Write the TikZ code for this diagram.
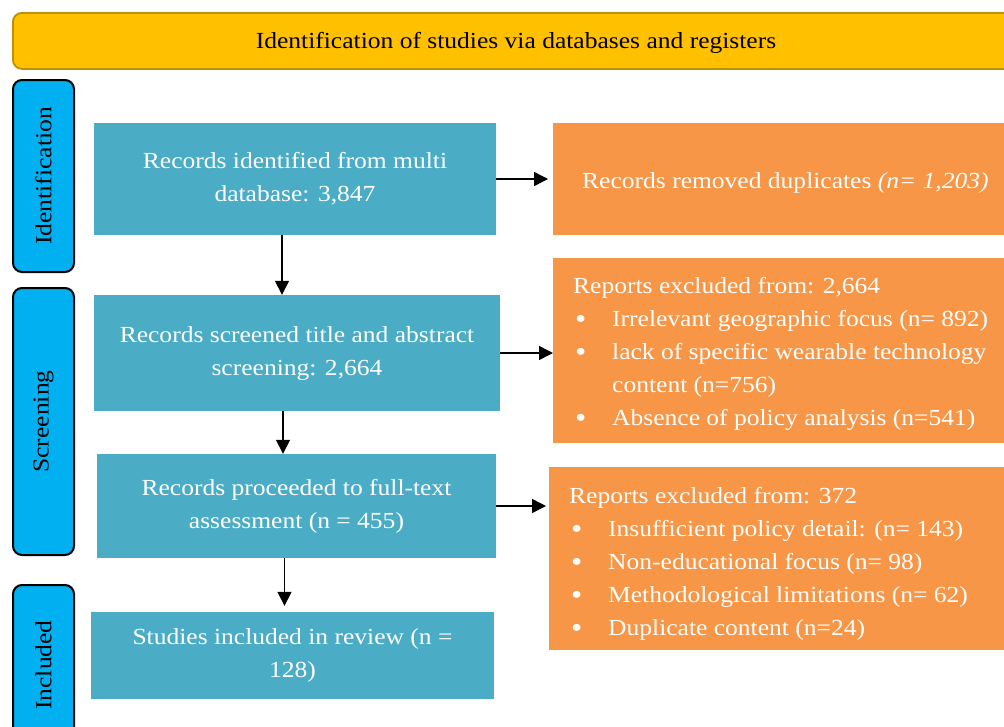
\documentclass[tikz,border=0pt]{standalone}
\usepackage{fontspec}
\setmainfont[FakeStretch=1.11]{Liberation Serif}
\usetikzlibrary{arrows.meta}
\definecolor{bannerfill}{HTML}{FFC000}
\definecolor{bannerdraw}{HTML}{BF9000}
\definecolor{stageblue}{HTML}{00B0F0}
\definecolor{boxteal}{HTML}{4BACC6}
\definecolor{boxorange}{HTML}{F79646}
\newcommand\bul{\makebox[39pt][l]{\hspace{2pt}\raisebox{-1.5pt}{\fontsize{29}{33}\selectfont\textbullet}}}
\begin{document}
\begin{tikzpicture}[x=1pt,y=-1pt,
  txt/.style={font=\fontsize{23}{33}\selectfont},
  banner/.style={fill=bannerfill, draw=bannerdraw, line width=1.8pt, rounded corners=9pt, inner sep=0pt, txt},
  stage/.style={fill=stageblue, draw=black, line width=2pt, rounded corners=9pt, rotate=90, inner sep=0pt, txt},
  mainbox/.style={fill=boxteal, text=white, align=center, inner sep=0pt, txt},
  exclbox/.style={fill=boxorange, inner sep=0pt},
  excltxt/.style={text=white, align=left, inner sep=0pt, anchor=west, txt},
  arr/.style={-{Triangle[length=14pt,width=14pt]}, line width=1.5pt}
]
\useasboundingbox (0,0) rectangle (1004,726);
\clip (0,0) rectangle (1004,726);

\node[banner, minimum width=1010pt, minimum height=56pt, anchor=north west] (banner) at (12,12) {};
\node[txt, inner sep=0pt] (bannertxt) at (516,43) {Identification of studies via databases and registers};

\node[stage, minimum width=192pt, minimum height=61pt] (sid) at (43.5,176) {Identification};
\node[stage, minimum width=267pt, minimum height=61pt] (ssc) at (43.5,421.5) {Screening};
\node[stage, minimum width=160pt, minimum height=61pt] (sin) at (43.5,665) {Included};

\node[mainbox, minimum width=402pt, minimum height=112pt] (b1) at (295,179) {Records identified from multi\\database: 3,847};
\node[mainbox, minimum width=406pt, minimum height=116pt] (b2) at (297,353) {Records screened title and abstract\\screening: 2,664};
\node[mainbox, minimum width=399pt, minimum height=104pt] (b3) at (296.5,506) {Records proceeded to full-text\\assessment (n = 455)};
\node[mainbox, minimum width=403pt, minimum height=87pt] (b4) at (292.5,655.5) {Studies included in review (n =\\128)};

\node[exclbox, minimum width=460pt, minimum height=112pt, anchor=north west] (o1) at (553,123) {};
\node[excltxt] (o1t) at (582,183) {Records removed duplicates \textit{(n= 1,203)}};

\node[exclbox, minimum width=460pt, minimum height=185pt, anchor=north west] (o2) at (553,258) {};
\node[excltxt] (o2t) at (573,354) {Reports excluded from: 2,664\\
\bul Irrelevant geographic focus (n= 892)\\
\bul lack of specific wearable technology\\
\hspace*{39pt}content (n=756)\\
\bul Absence of policy analysis (n=541)};

\node[exclbox, minimum width=460pt, minimum height=183pt, anchor=north west] (o3) at (549,467) {};
\node[excltxt] (o3t) at (569,564) {Reports excluded from: 372\\
\bul Insufficient policy detail: (n= 143)\\
\bul Non-educational focus (n= 98)\\
\bul Methodological limitations (n= 62)\\
\bul Duplicate content (n=24)};

\draw[arr] ([xshift=-13pt]b1.south) -- ([xshift=-13pt]b1.south |- b2.north);
\draw[arr] ([xshift=-14pt]b2.south) -- ([xshift=-14pt]b2.south |- b3.north);
\draw[arr] ([xshift=-12pt]b3.south) -- ([xshift=-12pt,yshift=6pt]b3.south |- b4.north);
\draw[arr] (b1.east) -- ([xshift=-5pt]b1.east -| o1.west);
\draw[arr] (b2.east) -- (b2.east -| o2.west);
\draw[arr] (b3.east) -- ([xshift=-3pt]b3.east -| o3.west);
\end{tikzpicture}
\end{document}
